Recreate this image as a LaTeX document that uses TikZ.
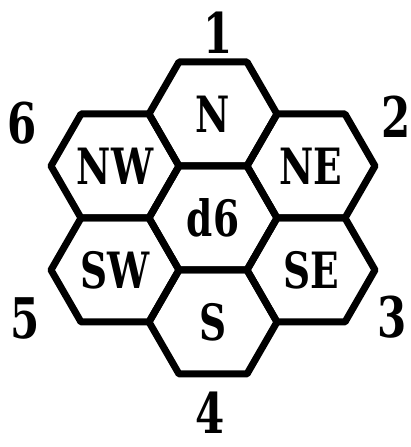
\documentclass[tikz,border=0pt]{standalone}
\usepackage{fontspec}
\newfontfamily\hexfont{DejaVu Serif}[FakeStretch=0.75]
\usepackage{tikz}

\begin{document}
\begin{tikzpicture}[x=1pt, y=1pt,
	hexline/.style={line width=7pt, line join=round},
	hexlabel/.style={font=\hexfont\bfseries\fontsize{50}{50}\selectfont, inner sep=0pt},
	sidenum/.style={font=\hexfont\bfseries\fontsize{56}{56}\selectfont, inner sep=0pt}]
	\useasboundingbox (0,0) rectangle (410,447);
	\foreach \name/\cx/\cy in {d6/213/229, N/213/333, S/213/125, NE/311/281, SE/311/177, NW/115/281, SW/115/177} {
		\draw[hexline] (\cx-64,\cy) -- (\cx-34,\cy+52) -- (\cx+34,\cy+52) -- (\cx+64,\cy) -- (\cx+34,\cy-52) -- (\cx-34,\cy-52) -- cycle;
		\node[hexlabel] (\name) at (\cx,\cy) {\name};
	}
	\node[sidenum] (one) at (218,414) {1};
	\node[sidenum] (two) at (396,330) {2};
	\node[sidenum] (three) at (392,130) {3};
	\node[sidenum] (four) at (210,34) {4};
	\node[sidenum] (five) at (25,129) {5};
	\node[sidenum] (six) at (22,324) {6};
\end{tikzpicture}
\end{document}
